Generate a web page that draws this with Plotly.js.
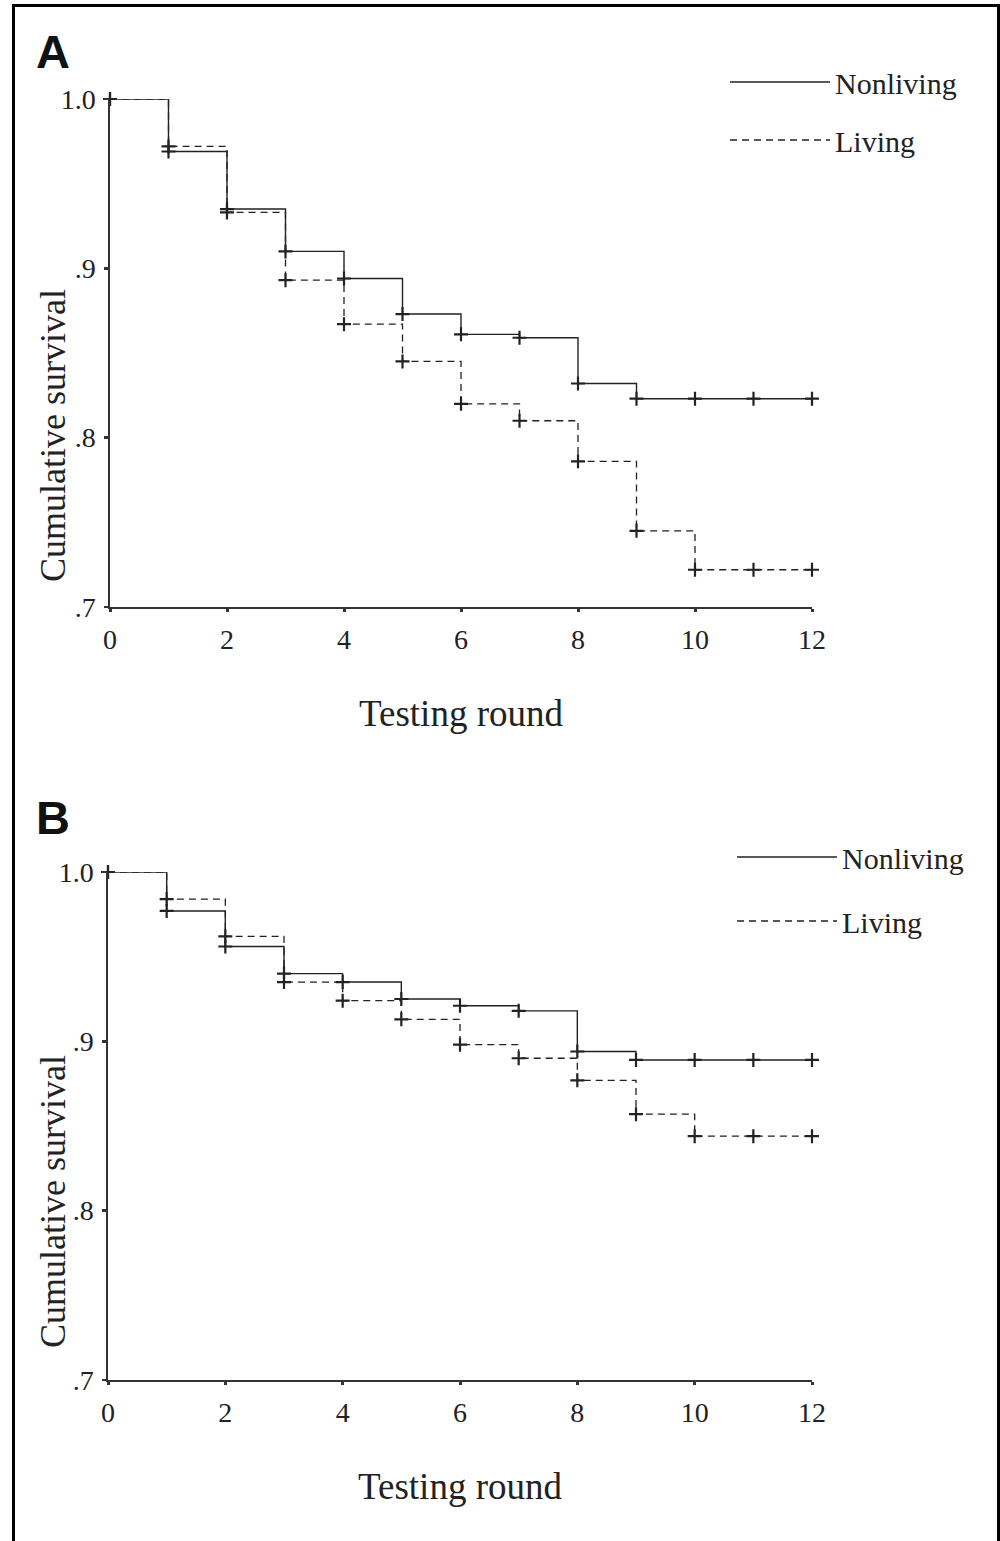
<!DOCTYPE html>
<html>
<head>
<meta charset="utf-8">
<script src="https://cdn.plot.ly/plotly-3.0.1.min.js"></script>
<style>html,body{margin:0;padding:0;background:#fff}#chart{width:1000px;height:1541px}</style>
</head>
<body>
<div id="chart"></div>
<script>
// ---- data ----
const rounds = [0,1,2,3,4,5,6,7,8,9,10,11,12];
const nonlivingA = [1.000,0.969,0.935,0.910,0.894,0.873,0.861,0.859,0.832,0.823,0.823,0.823,0.823];
const livingA    = [1.000,0.972,0.933,0.893,0.867,0.845,0.820,0.810,0.786,0.745,0.722,0.722,0.722];
const nonlivingB = [1.000,0.977,0.956,0.940,0.935,0.925,0.921,0.918,0.894,0.889,0.889,0.889,0.889];
const livingB    = [1.000,0.984,0.962,0.935,0.924,0.913,0.898,0.890,0.877,0.857,0.844,0.844,0.844];
const yTickVals = [0.7,0.8,0.9,1.0];
const yTickText = ['.7','.8','.9','1.0'];
const xTickVals = [0,2,4,6,8,10,12];
const seriesNames = ['Nonliving','Living'];
const panelLabels = ['A','B'];
const xTitle = 'Testing round';
const yTitle = 'Cumulative survival';

// ---- styling ----
const SERIF = 'Liberation Serif, Times New Roman, serif';
const INK = '#222';
const solidLine = {color: INK, width: 1.4, shape: 'hv'};
const dashLine = {color: INK, width: 1.3, shape: 'hv', dash: '7px,5px'};
const mk = {symbol: 'cross-thin', size: 10, line: {color: INK, width: 2.2}};

function panelTraces(nl, lv, xa, ya, leg) {
  return [
    {x: rounds, y: nl, mode: 'lines', line: solidLine, name: seriesNames[0], xaxis: xa, yaxis: ya,
     legend: leg, legendgroup: leg + 'n', cliponaxis: false, hoverinfo: 'skip'},
    {x: rounds, y: lv, mode: 'lines', line: dashLine, name: seriesNames[1], xaxis: xa, yaxis: ya,
     legend: leg, legendgroup: leg + 'l', cliponaxis: false, hoverinfo: 'skip'},
    {x: rounds, y: nl, mode: 'markers', marker: mk, showlegend: false, xaxis: xa, yaxis: ya, cliponaxis: false, hoverinfo: 'skip'},
    {x: rounds, y: lv, mode: 'markers', marker: mk, showlegend: false, xaxis: xa, yaxis: ya, cliponaxis: false, hoverinfo: 'skip'}
  ];
}

const data = [].concat(
  panelTraces(nonlivingA, livingA, 'x', 'y', 'legend'),
  panelTraces(nonlivingB, livingB, 'x2', 'y2', 'legend2')
);

const H = 1541, W = 1000;
const py = p => 1 - p / H;

function xAxis(domain, anchor) {
  return {
    domain: domain, anchor: anchor, range: [0, 12], tickvals: xTickVals,
    showgrid: false, zeroline: false, showline: true, linecolor: '#333', linewidth: 1.6,
    ticks: 'outside', ticklen: 3, tickwidth: 3, tickcolor: '#333',
    tickfont: {family: SERIF, size: 28, color: INK}, ticklabelstandoff: 4,
    title: {text: xTitle, font: {family: SERIF, size: 37, color: INK}, standoff: 46},
    fixedrange: true
  };
}
function yAxis(domain, anchor) {
  return {
    domain: domain, anchor: anchor, range: [0.7, 1.0], tickvals: yTickVals, ticktext: yTickText,
    showgrid: false, zeroline: false, showline: true, linecolor: '#333', linewidth: 1.6,
    ticks: 'outside', ticklen: 4, tickwidth: 2.5, tickcolor: '#333',
    tickfont: {family: SERIF, size: 28, color: INK}, ticklabelstandoff: 3,
    fixedrange: true
  };
}

const legendFont = {family: SERIF, size: 30, color: INK};

const layout = {
  width: W, height: H,
  margin: {l: 0, r: 0, t: 0, b: 0},
  paper_bgcolor: '#fff', plot_bgcolor: '#fff',
  font: {family: SERIF, color: INK},
  xaxis: xAxis([0.110, 0.812], 'y'),
  yaxis: yAxis([py(607), py(99)], 'x'),
  xaxis2: xAxis([0.108, 0.812], 'y2'),
  yaxis2: yAxis([py(1380), py(872)], 'x2'),
  legend: {x: 0.725, y: py(56), xanchor: 'left', yanchor: 'top', bgcolor: 'rgba(0,0,0,0)',
           font: legendFont, itemwidth: 100, traceorder: 'grouped', tracegroupgap: 16, itemclick: false},
  legend2: {x: 0.732, y: py(831), xanchor: 'left', yanchor: 'top', bgcolor: 'rgba(0,0,0,0)',
           font: legendFont, itemwidth: 100, traceorder: 'grouped', tracegroupgap: 22, itemclick: false},
  shapes: [
    {type: 'rect', xref: 'paper', yref: 'paper', x0: 0.0135, x1: 0.9985, y0: -0.01, y1: py(5.5),
     line: {color: '#000', width: 3}, fillcolor: 'rgba(0,0,0,0)'}
  ],
  annotations: [
    {text: panelLabels[0], xref: 'paper', yref: 'paper', x: 0.034, y: py(51), xanchor: 'left', yanchor: 'middle',
     showarrow: false, font: {family: 'Liberation Sans, Arial, sans-serif', size: 47, color: '#111', weight: 'bold'}},
    {text: panelLabels[1], xref: 'paper', yref: 'paper', x: 0.034, y: py(817), xanchor: 'left', yanchor: 'middle',
     showarrow: false, font: {family: 'Liberation Sans, Arial, sans-serif', size: 47, color: '#111', weight: 'bold'}},
    {text: yTitle, xref: 'paper', yref: 'paper', x: 0.053, y: py(436), xanchor: 'center', yanchor: 'middle',
     textangle: -90, showarrow: false, font: {family: SERIF, size: 36, color: INK}},
    {text: yTitle, xref: 'paper', yref: 'paper', x: 0.053, y: py(1202), xanchor: 'center', yanchor: 'middle',
     textangle: -90, showarrow: false, font: {family: SERIF, size: 36, color: INK}}
  ]
};

Plotly.newPlot('chart', data, layout, {displayModeBar: false, staticPlot: true});
</script>
</body>
</html>
